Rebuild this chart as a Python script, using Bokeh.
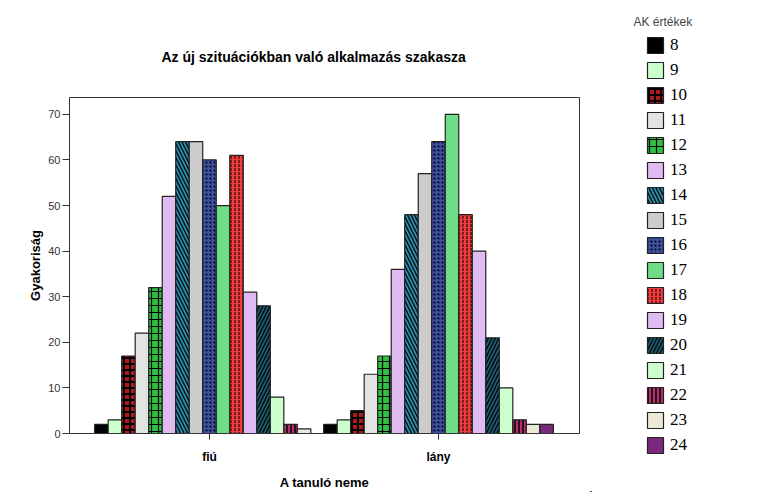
from bokeh.plotting import figure
from bokeh.models import (ColumnDataSource, Range1d, FixedTicker, Legend, LegendItem, Label)
from bokeh.embed import file_html
from bokeh.resources import INLINE

# ---------------- data ----------------
genders = ["fiú", "lány"]
ak_values = ["8", "9", "10", "11", "12", "13", "14", "15", "16", "17", "18", "19", "20", "21", "22", "23", "24"]
fiu_counts = [2, 3, 17, 22, 32, 52, 64, 64, 60, 50, 61, 31, 28, 8, 2, 1, 0]
lany_counts = [2, 3, 5, 13, 17, 36, 48, 57, 64, 70, 48, 40, 21, 10, 3, 2, 2]
y_ticks = [0, 10, 20, 30, 40, 50, 60, 70]

title_text = "Az új szituációkban való alkalmazás szakasza"
x_label = "A tanuló neme"
y_label = "Gyakoriság"
legend_title = "AK értékek"

# ---------------- styles ----------------
fills = ["#000000", "#ccffcc", "#b01820", "#e3e3e3", "#2fbf47", "#e0bbf2", "#2a8aa8", "#cccccc",
         "#3c4fa0", "#6fdc87", "#f03c3c", "#e0bbf2", "#1c5a6c", "#ccffcc", "#b3306e", "#ece9d9", "#7a2a7d"]
hatches = [None, None, "cross", None, "cross", None, "left_diagonal_line", None,
           "dot", None, "vertical_dash", None, "right_diagonal_line", None, "vertical_line", None, None]
hatch_scales = [12, 12, 6, 12, 7, 12, 7, 12, 4, 12, 4, 12, 7, 12, 4, 12, 12]
hatch_weights = [1, 1, 2, 1, 1.2, 1, 1.2, 1, 2, 1, 1, 1, 1.2, 1, 1.5, 1, 1]

FONT = "Liberation Sans"
H = 492
MAIN_W = 590
LEG_W = 166

p = figure(width=MAIN_W, height=H, output_backend="svg", toolbar_location=None,
           x_range=Range1d(-0.6114, 1.6157), y_range=Range1d(0, 73.7),
           min_border_left=69, min_border_right=11, min_border_top=97, min_border_bottom=59)
p.background_fill_color = "white"
p.border_fill_color = "white"
p.outline_line_color = "#333333"
p.outline_line_width = 1
p.xgrid.visible = False
p.ygrid.visible = False

# legend panel: its own small figure, placed to the right of the chart
lf = figure(width=LEG_W, height=H, output_backend="svg", toolbar_location=None,
            x_range=Range1d(0, LEG_W), y_range=Range1d(0, H),
            x_axis_location=None, y_axis_location=None,
            min_border_left=0, min_border_right=0, min_border_top=0, min_border_bottom=0)
lf.outline_line_color = None
lf.xgrid.visible = False
lf.ygrid.visible = False
lf.background_fill_color = "white"
lf.border_fill_color = "white"
lf.styles = {"position": "absolute", "left": f"{MAIN_W}px", "top": "0px"}

bar_w = 0.059
x_pos = list(range(len(genders)))
items = []
for i, ak in enumerate(ak_values):
    off = (i - (len(ak_values) - 1) / 2) * bar_w
    src = ColumnDataSource(dict(x=[xp + off for xp in x_pos], top=[fiu_counts[i], lany_counts[i]]))
    kw = dict(fill_color=fills[i], line_color="#222222", line_width=1.2)
    if hatches[i]:
        kw.update(hatch_pattern=hatches[i], hatch_color="#000000", hatch_scale=hatch_scales[i],
                  hatch_weight=hatch_weights[i])
    p.vbar(x="x", top="top", bottom=0, width=bar_w, source=src, **kw)
    # key glyph in the legend panel, same style (its bar lies outside the visible range)
    key_src = ColumnDataSource(dict(x=[-100], top=[1]))
    lr = lf.vbar(x="x", top="top", bottom=0, width=1, source=key_src, **kw)
    items.append(LegendItem(label=ak, renderers=[lr]))

legend = Legend(items=items, location=(55, 37), orientation="vertical",
                glyph_width=20, glyph_height=20, label_height=20, spacing=5,
                label_standoff=5, padding=0, margin=0, border_line_color=None,
                background_fill_alpha=0, label_text_font="Liberation Serif",
                label_text_font_size="17px", label_text_color="#000000")
lf.add_layout(legend, "center")
lf.add_layout(Label(x=43, y=H - 21, text=legend_title, text_font=FONT, text_font_size="12px",
                    text_color="#444444", text_baseline="middle", text_align="left"))

# title
p.title.text = title_text
p.title.text_font = FONT
p.title.text_font_size = "14px"
p.title.text_font_style = "bold"
p.title.text_color = "#000000"
p.title.align = "left"
p.title.offset = 92
p.title.standoff = 66

# axes
p.xaxis.ticker = FixedTicker(ticks=x_pos)
p.xaxis.major_label_overrides = {i: g for i, g in enumerate(genders)}
p.xaxis.major_label_text_font = FONT
p.xaxis.major_label_text_font_style = "bold"
p.xaxis.major_label_text_font_size = "12px"
p.xaxis.major_label_text_color = "#000000"
p.xaxis.major_tick_out = 6
p.xaxis.major_tick_in = 0
p.xaxis.minor_tick_line_color = None
p.xaxis.major_label_standoff = 10
p.xaxis.axis_label = x_label
p.xaxis.axis_label_text_font = FONT
p.xaxis.axis_label_text_font_style = "bold"
p.xaxis.axis_label_text_font_size = "13px"
p.xaxis.axis_label_text_color = "#000000"
p.xaxis.axis_label_standoff = 8
p.xaxis.axis_line_color = "#333333"
p.xaxis.major_tick_line_color = "#333333"

p.yaxis.ticker = FixedTicker(ticks=y_ticks)
p.yaxis.major_label_text_font = FONT
p.yaxis.major_label_text_font_size = "11px"
p.yaxis.major_label_text_color = "#333333"
p.yaxis.major_tick_out = 7
p.yaxis.major_tick_in = 0
p.yaxis.minor_tick_line_color = None
p.yaxis.major_label_standoff = 2
p.yaxis.axis_label = y_label
p.yaxis.axis_label_text_font = FONT
p.yaxis.axis_label_text_font_style = "bold"
p.yaxis.axis_label_text_font_size = "13px"
p.yaxis.axis_label_text_color = "#000000"
p.yaxis.axis_label_standoff = 2
p.yaxis.axis_line_color = "#333333"
p.yaxis.major_tick_line_color = "#333333"

open("out.html", "w").write(file_html([p, lf], INLINE))
